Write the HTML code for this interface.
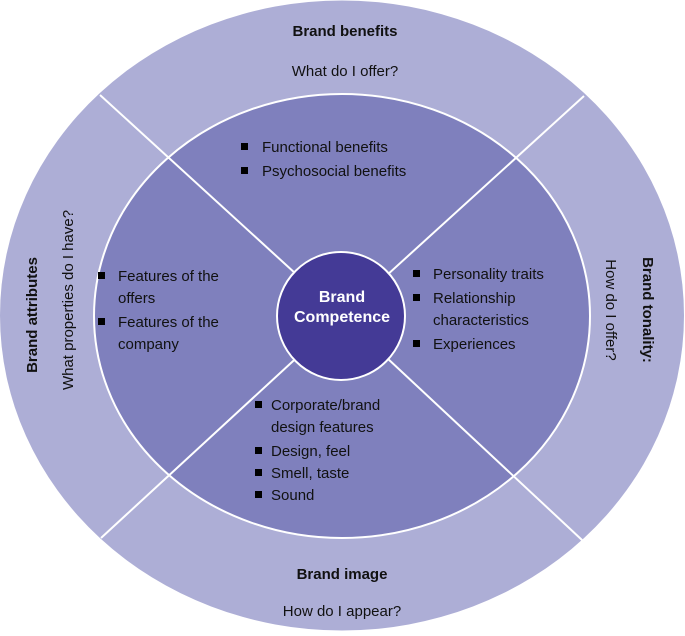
<!DOCTYPE html>
<html><head><style>
body{margin:0;background:#fff}
svg text{font-family:"Liberation Sans",Arial,sans-serif;font-size:15px;fill:#111}
.b{font-weight:bold}
</style></head><body>
<svg width="685" height="631" viewBox="0 0 685 631">
<ellipse cx="342" cy="315.5" rx="342" ry="315" fill="#adaed6"/>
<ellipse cx="342" cy="316" rx="248" ry="222" fill="#7f80bd" stroke="#fff" stroke-width="2"/>
<g stroke="#fff" stroke-width="2">
<line x1="100" y1="95" x2="342" y2="316"/>
<line x1="584" y1="96" x2="342" y2="316"/>
<line x1="101" y1="538" x2="342" y2="316"/>
<line x1="582" y1="540" x2="342" y2="316"/>
</g>
<circle cx="341" cy="316" r="64" fill="#443a96" stroke="#fff" stroke-width="2"/>
<text x="342" y="302" text-anchor="middle" class="b" style="fill:#fff;font-size:16px">Brand</text>
<text x="342" y="322" text-anchor="middle" class="b" style="fill:#fff;font-size:16px">Competence</text>

<text x="345" y="36" text-anchor="middle" class="b">Brand benefits</text>
<text x="345" y="76" text-anchor="middle">What do I offer?</text>
<text x="342" y="579" text-anchor="middle" class="b">Brand image</text>
<text x="342" y="616" text-anchor="middle">How do I appear?</text>
<text transform="translate(37,315) rotate(-90)" text-anchor="middle" class="b">Brand attributes</text>
<text transform="translate(73,300) rotate(-90)" text-anchor="middle">What properties do I have?</text>
<text transform="translate(643,310) rotate(90)" text-anchor="middle" class="b">Brand tonality:</text>
<text transform="translate(606,310) rotate(90)" text-anchor="middle">How do I offer?</text>

<g fill="#000">
<rect x="241" y="143" width="7" height="7"/><rect x="241" y="167" width="7" height="7"/>
<rect x="98" y="272" width="7" height="7"/><rect x="98" y="318" width="7" height="7"/>
<rect x="413" y="270" width="7" height="7"/><rect x="413" y="294" width="7" height="7"/><rect x="413" y="340" width="7" height="7"/>
<rect x="255" y="401" width="7" height="7"/><rect x="255" y="447" width="7" height="7"/><rect x="255" y="469" width="7" height="7"/><rect x="255" y="491" width="7" height="7"/>
</g>
<text x="262" y="152">Functional benefits</text>
<text x="262" y="176">Psychosocial benefits</text>
<text x="118" y="281">Features of the</text>
<text x="118" y="303">offers</text>
<text x="118" y="327">Features of the</text>
<text x="118" y="349">company</text>
<text x="433" y="279">Personality traits</text>
<text x="433" y="303">Relationship</text>
<text x="433" y="325">characteristics</text>
<text x="433" y="349">Experiences</text>
<text x="271" y="410">Corporate/brand</text>
<text x="271" y="432">design features</text>
<text x="271" y="456">Design, feel</text>
<text x="271" y="478">Smell, taste</text>
<text x="271" y="500">Sound</text>
</svg>
</body></html>
